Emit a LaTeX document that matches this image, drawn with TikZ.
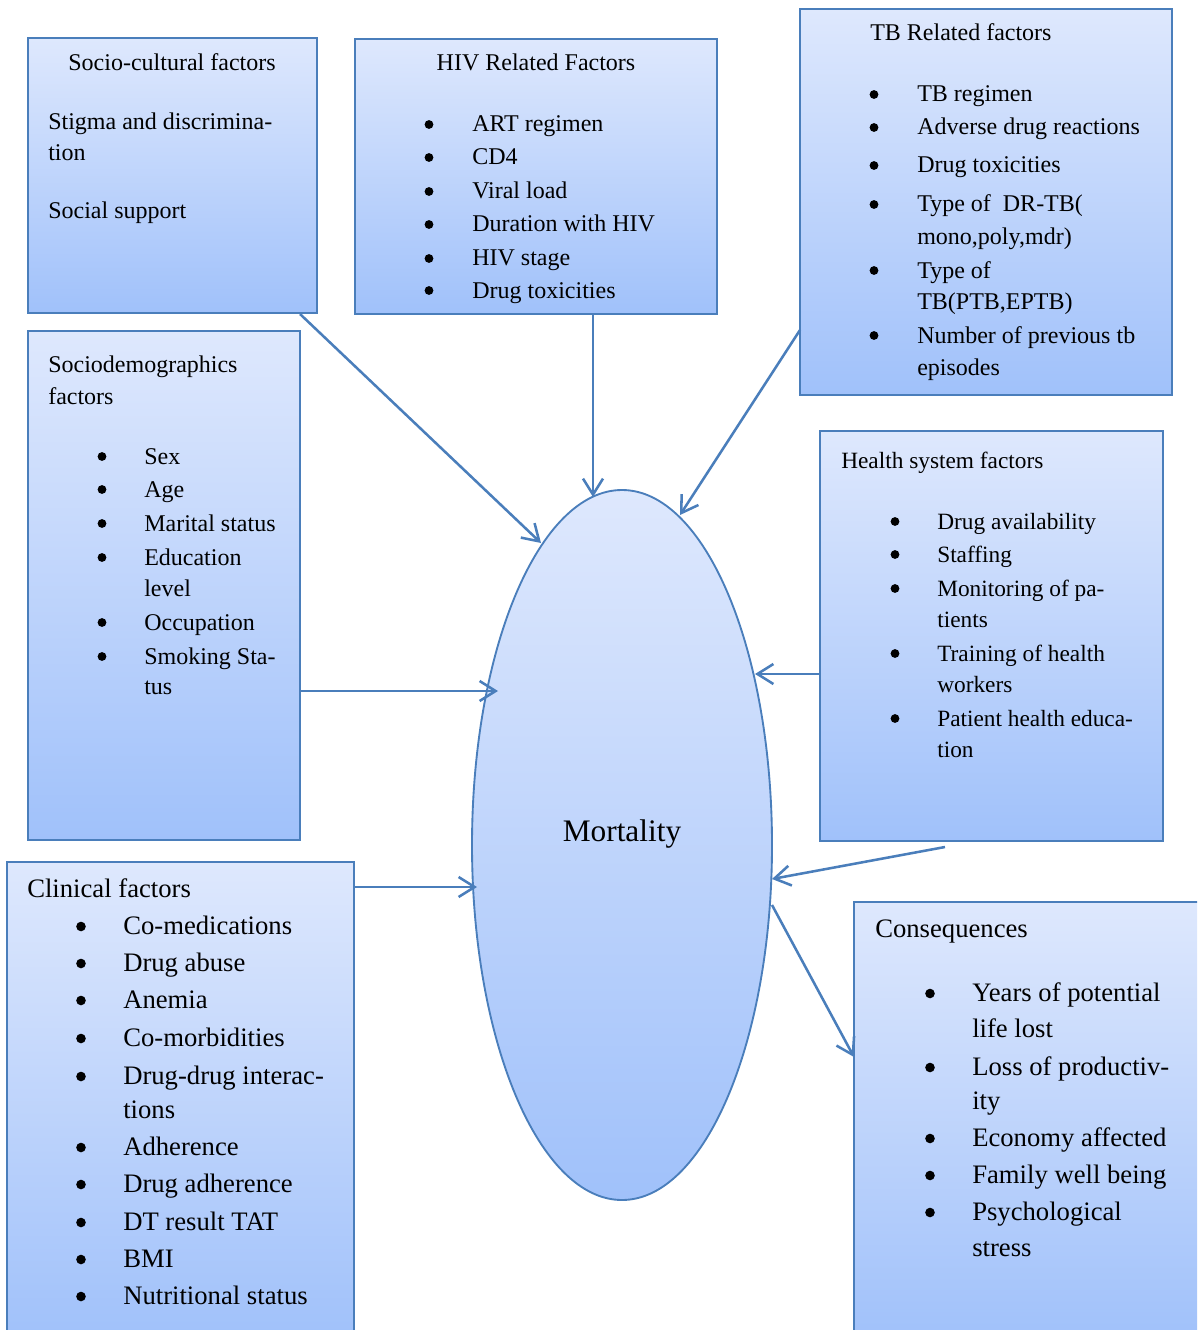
\documentclass[tikz,border=0pt]{standalone}
\usepackage{fontspec}
\setmainfont{Liberation Serif}
\usetikzlibrary{shapes.geometric,arrows.meta,calc,fit}

\definecolor{edgeblue}{RGB}{74,126,187}
\definecolor{fillhi}{RGB}{222,232,253}
\definecolor{filllo}{RGB}{160,193,250}

\tikzset{
  box/.style={rectangle, draw=edgeblue, line width=1.3pt, outer sep=0pt,
    top color=fillhi, bottom color=filllo, inner sep=0pt},
  oval/.style={ellipse, draw=edgeblue, line width=1.4pt, outer sep=0pt,
    top color=fillhi, bottom color=filllo, inner sep=0pt,
    minimum width=225pt, minimum height=532.5pt},
  link/.style={draw=edgeblue, line width=1.9pt,
    -{Straight Barb[length=12pt,width=15pt]}},
  txt/.style={anchor=base west, inner sep=0pt},
  ctr/.style={anchor=base, inner sep=0pt},
  bul/.style={circle, fill=black, inner sep=0pt, minimum size=6.6pt},
  f18/.style={every node/.append style={font=\fontsize{18}{20}\selectfont}},
  f17/.style={every node/.append style={font=\fontsize{17.5}{20}\selectfont}},
  f20/.style={every node/.append style={font=\fontsize{20}{22}\selectfont},
    bul/.append style={minimum size=7.2pt}},
}

% bulleted line: name, bullet x, text x, baseline y, text
\newcommand\bitem[5]{%
  \node[bul] (#1b) at (#2,#4-7.5) {};
  \node[txt] (#1) at (#3,#4) {#5};}

\begin{document}
\begin{tikzpicture}[x=0.75pt, y=-0.75pt]
\useasboundingbox (0,0) rectangle (1197,1330);
\clip (0,0) rectangle (1197,1330);

% frames
\node[box, fit={(28,38) (317,313)}] (sc) {};
\node[box, fit={(355,39) (717,314)}] (hiv) {};
\node[box, fit={(800,9) (1172,395)}] (tb) {};
\node[box, fit={(28,331) (300,840)}] (sd) {};
\node[box, fit={(820,431) (1163,841)}] (hs) {};
\node[box, fit={(7,862) (354,1340)}] (cl) {};
\node[box, fit={(854,902) (1205,1340)}] (cq) {};
\node[oval] (m) at (622,845) {};
\node[font=\fontsize{23.5}{26}\selectfont, ctr] (mt) at (622,841) {Mortality};

% socio-cultural
\begin{scope}[f18]
\node[ctr] (sct) at (172,71) {Socio-cultural factors};
\node[txt] (sc1) at (48,130) {Stigma and discrimina-};
\node[txt] (sc2) at (48,161) {tion};
\node[txt] (sc3) at (48,219) {Social support};
\end{scope}

% HIV
\begin{scope}[f18]
\node[ctr] (hivt) at (536,71) {HIV Related Factors};
\bitem{hv1}{429}{472}{132}{ART regimen}
\bitem{hv2}{429}{472}{165}{CD4}
\bitem{hv3}{429}{472}{199}{Viral load}
\bitem{hv4}{429}{472}{232}{Duration with HIV}
\bitem{hv5}{429}{472}{266}{HIV stage}
\bitem{hv6}{429}{472}{298}{Drug toxicities}
\end{scope}

% TB
\begin{scope}[f18]
\node[txt] (tbt) at (870,41) {TB Related factors};
\bitem{tb1}{874}{917}{102}{TB regimen}
\bitem{tb2}{874}{917}{135}{Adverse drug reactions}
\bitem{tb3}{874}{917}{173}{Drug toxicities}
\bitem{tb4}{874}{917}{212}{Type of~ DR-TB(}
\node[txt] (tb4x) at (917,244) {mono,poly,mdr)};
\bitem{tb5}{874}{917}{278}{Type of}
\node[txt] (tb5x) at (917,309) {TB(PTB,EPTB)};
\bitem{tb6}{874}{917}{343}{Number of previous tb}
\node[txt] (tb6x) at (917,375) {episodes};
\end{scope}

% sociodemographics
\begin{scope}[f18]
\node[txt] (sdt) at (48,372) {Sociodemographics};
\node[txt] (sdt2) at (48,404) {factors};
\bitem{sd1}{102}{144}{464}{Sex}
\bitem{sd2}{102}{144}{497}{Age}
\bitem{sd3}{102}{144}{531}{Marital status}
\bitem{sd4}{102}{144}{565}{Education}
\node[txt] (sd4x) at (144,596) {level};
\bitem{sd5}{102}{144}{630}{Occupation}
\bitem{sd6}{102}{144}{664}{Smoking Sta-}
\node[txt] (sd6x) at (144,694) {tus};
\end{scope}

% health system
\begin{scope}[f17]
\node[txt] (hst) at (841,468) {Health system factors};
\bitem{hs1}{895}{937}{529}{Drug availability}
\bitem{hs2}{895}{937}{562}{Staffing}
\bitem{hs3}{895}{937}{596}{Monitoring of pa-}
\node[txt] (hs3x) at (937,627) {tients};
\bitem{hs4}{895}{937}{661}{Training of health}
\node[txt] (hs4x) at (937,692) {workers};
\bitem{hs5}{895}{937}{726}{Patient health educa-}
\node[txt] (hs5x) at (937,757) {tion};
\end{scope}

% clinical
\begin{scope}[f20]
\node[txt] (clt) at (27,897) {Clinical factors};
\bitem{cl1}{81}{123}{934}{Co-medications}
\bitem{cl2}{81}{123}{971}{Drug abuse}
\bitem{cl3}{81}{123}{1008}{Anemia}
\bitem{cl4}{81}{123}{1046}{Co-morbidities}
\bitem{cl5}{81}{123}{1084}{Drug-drug interac-}
\node[txt] (cl5x) at (123,1118) {tions};
\bitem{cl6}{81}{123}{1155}{Adherence}
\bitem{cl7}{81}{123}{1192}{Drug adherence}
\bitem{cl8}{81}{123}{1230}{DT result TAT}
\bitem{cl9}{81}{123}{1267}{BMI}
\bitem{cl10}{81}{123}{1304}{Nutritional status}
\end{scope}

% consequences
\begin{scope}[f20]
\node[txt] (cqt) at (875,937) {Consequences};
\bitem{cq1}{930}{972}{1001}{Years of potential}
\node[txt] (cq1x) at (972,1037) {life lost};
\bitem{cq2}{930}{972}{1075}{Loss of productiv-}
\node[txt] (cq2x) at (972,1109) {ity};
\bitem{cq3}{930}{972}{1146}{Economy affected}
\bitem{cq4}{930}{972}{1183}{Family well being}
\bitem{cq5}{930}{972}{1220}{Psychological}
\node[txt] (cq5x) at (972,1256) {stress};
\end{scope}

% connectors
\draw[link] ($(sc.south east)+(-17,1)$) -- ($(m.center)+(-81,-302)$);
\draw[link] ($(hiv.south west)+(238,0)$) -- ($(m.center)+(-29,-348)$);
\draw[link] ($(tb.north west)+(0,321)$) -- ($(m.center)+(58,-330)$);
\draw[link] ($(sd.north east)+(0,360)$) -- ($(m.center)+(-124,-154)$);
\draw[link] ($(hs.north west)+(0,243)$) -- ($(m.center)+(133,-171)$);
\draw[link] ($(cl.north east)+(0,25)$) -- ($(m.center)+(-145,42)$);
\draw[link] ($(hs.south west)+(125,6)$) -- ($(m.center)+(150,34)$);
\draw[link] ($(m.center)+(150,60)$) -- ($(cq.north west)+(0,155)$);
\end{tikzpicture}
\end{document}
